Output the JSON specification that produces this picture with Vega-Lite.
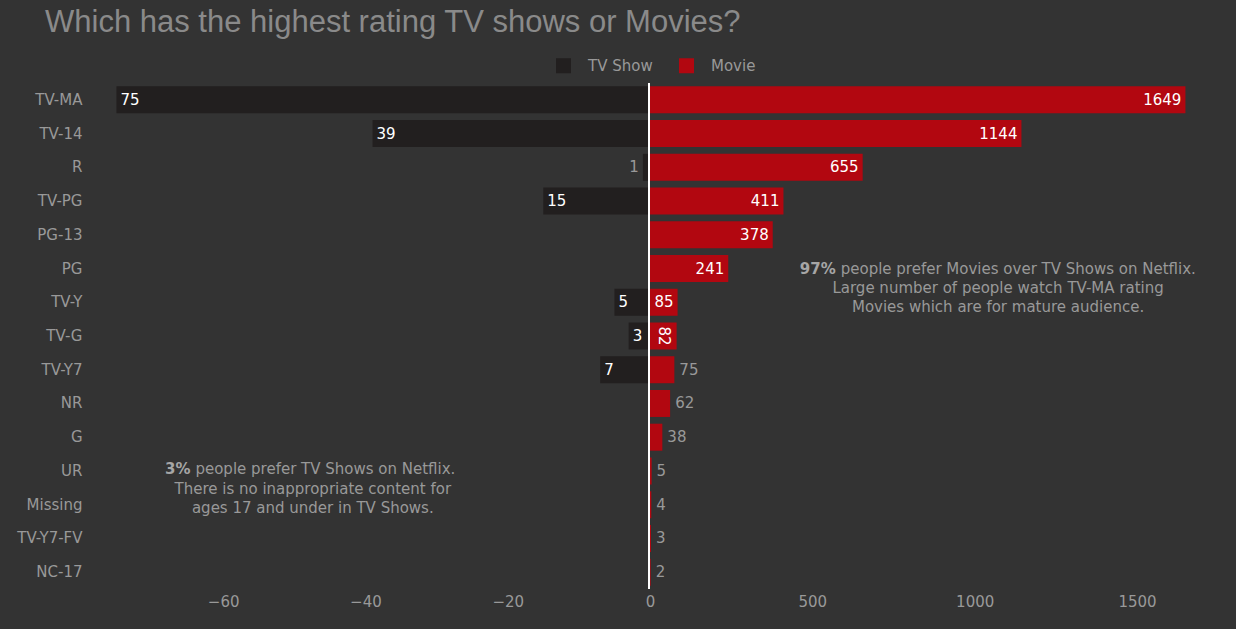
{
  "$schema": "https://vega.github.io/schema/vega-lite/v6.json",
  "width": 1126,
  "height": 506,
  "autosize": {"type": "none"},
  "padding": {"left": 88, "top": 83, "right": 22, "bottom": 40},
  "background": "#333333",
  "config": {
    "view": {"stroke": null},
    "font": "DejaVu Sans",
    "axis": {"grid": false, "domain": false, "ticks": false, "tickSize": 0, "labelFontSize": 15, "labelColor": "#999999", "labelFont": "DejaVu Sans", "title": null, "labelFlush": false}
  },
  "title": {
    "text": "Which has the highest rating TV shows or Movies?",
    "anchor": "start",
    "frame": "group",
    "font": "Liberation Sans",
    "fontSize": 31,
    "fontWeight": "normal",
    "color": "#8a8a8a",
    "dx": -43,
    "dy": -19,
    "offset": 0
  },
  "data": {
    "values": [
      {"rating": "TV-MA", "type": "TV Show", "count": 75},
      {"rating": "TV-14", "type": "TV Show", "count": 39},
      {"rating": "R", "type": "TV Show", "count": 1},
      {"rating": "TV-PG", "type": "TV Show", "count": 15},
      {"rating": "TV-Y", "type": "TV Show", "count": 5},
      {"rating": "TV-G", "type": "TV Show", "count": 3},
      {"rating": "TV-Y7", "type": "TV Show", "count": 7},
      {"rating": "TV-MA", "type": "Movie", "count": 1649},
      {"rating": "TV-14", "type": "Movie", "count": 1144},
      {"rating": "R", "type": "Movie", "count": 655},
      {"rating": "TV-PG", "type": "Movie", "count": 411},
      {"rating": "PG-13", "type": "Movie", "count": 378},
      {"rating": "PG", "type": "Movie", "count": 241},
      {"rating": "TV-Y", "type": "Movie", "count": 85},
      {"rating": "TV-G", "type": "Movie", "count": 82},
      {"rating": "TV-Y7", "type": "Movie", "count": 75},
      {"rating": "NR", "type": "Movie", "count": 62},
      {"rating": "G", "type": "Movie", "count": 38},
      {"rating": "UR", "type": "Movie", "count": 5},
      {"rating": "Missing", "type": "Movie", "count": 4},
      {"rating": "TV-Y7-FV", "type": "Movie", "count": 3},
      {"rating": "NC-17", "type": "Movie", "count": 2}
    ]
  },
  "resolve": {"scale": {"x": "independent"}, "axis": {"x": "independent"}},
  "layer": [
    {
      "layer": [
        {
          "transform": [{"filter": "datum.type === 'TV Show'"}],
          "mark": {"type": "bar"},
          "encoding": {
            "x": {
              "field": "count",
              "type": "quantitative",
              "scale": {"domain": [0, 79], "range": [562, 0], "nice": false},
              "axis": {"orient": "bottom", "values": [60, 40, 20, 0], "labelExpr": "datum.value == 0 ? '0' : '\u2212' + datum.label", "labelPadding": 5, "labelFlush": false}
            },
            "y": {
              "field": "rating",
              "type": "nominal",
              "scale": {"domain": ["TV-MA", "TV-14", "R", "TV-PG", "PG-13", "PG", "TV-Y", "TV-G", "TV-Y7", "NR", "G", "UR", "Missing", "TV-Y7-FV", "NC-17"], "paddingInner": 0.2, "paddingOuter": 0.1},
              "axis": {"labelPadding": 6, "labelFontSize": 15, "labelColor": "#999999"}
            },
            "color": {
              "field": "type",
              "type": "nominal",
              "scale": {"domain": ["TV Show", "Movie"], "range": ["#221f1f", "#b20710"]},
              "legend": {"orient": "none", "legendX": 468, "legendY": -25, "direction": "horizontal", "title": null, "symbolType": "square", "symbolSize": 225, "symbolStrokeWidth": 0, "symbolOpacity": 1, "labelFontSize": 15, "labelColor": "#999999", "labelFont": "DejaVu Sans", "labelOffset": 17, "columnPadding": 26, "padding": 0}
            }
          }
        },
        {
          "data": {"values": [{"note": "zero"}]},
          "mark": {"type": "rule", "color": "#ffffff", "strokeWidth": 2},
          "encoding": {
            "x": {"datum": 0.14, "type": "quantitative"}
          }
        },
        {
          "transform": [{"filter": "datum.type === 'TV Show' && datum.count >= 3"}],
          "mark": {"type": "text", "align": "left", "baseline": "middle", "dx": 4, "fontSize": 15, "color": "#ffffff"},
          "encoding": {
            "x": {"field": "count", "type": "quantitative"},
            "y": {"field": "rating", "type": "nominal"},
            "text": {"field": "count", "type": "quantitative"}
          }
        },
        {
          "transform": [{"filter": "datum.type === 'TV Show' && datum.count < 3"}],
          "mark": {"type": "text", "align": "right", "baseline": "middle", "dx": -4, "fontSize": 15, "color": "#999999"},
          "encoding": {
            "x": {"field": "count", "type": "quantitative"},
            "y": {"field": "rating", "type": "nominal"},
            "text": {"field": "count", "type": "quantitative"}
          }
        },
        {
          "data": {"values": [{"note": "tv"}]},
          "mark": {"type": "text", "align": "right", "baseline": "middle", "fontSize": 15, "fontWeight": "bold", "color": "#a6a6a6", "dy": -2},
          "encoding": {
            "x": {"datum": 64.6, "type": "quantitative"},
            "y": {"datum": "UR", "type": "nominal"},
            "text": {"value": "3%"}
          }
        },
        {
          "data": {"values": [{"note": "tv"}]},
          "mark": {"type": "text", "align": "left", "baseline": "middle", "fontSize": 15, "color": "#999999", "dy": -2, "dx": 5},
          "encoding": {
            "x": {"datum": 64.6, "type": "quantitative"},
            "y": {"datum": "UR", "type": "nominal"},
            "text": {"value": "people prefer TV Shows on Netflix."}
          }
        },
        {
          "data": {"values": [{"note": "tv"}]},
          "mark": {"type": "text", "align": "center", "baseline": "middle", "fontSize": 15, "color": "#999999", "dy": 18},
          "encoding": {
            "x": {"datum": 47.4, "type": "quantitative"},
            "y": {"datum": "UR", "type": "nominal"},
            "text": {"value": "There is no inappropriate content for"}
          }
        },
        {
          "data": {"values": [{"note": "tv"}]},
          "mark": {"type": "text", "align": "center", "baseline": "middle", "fontSize": 15, "color": "#999999", "dy": 37},
          "encoding": {
            "x": {"datum": 47.4, "type": "quantitative"},
            "y": {"datum": "UR", "type": "nominal"},
            "text": {"value": "ages 17 and under in TV Shows."}
          }
        }
      ]
    },
    {
      "layer": [
        {
          "transform": [{"filter": "datum.type === 'Movie'"}],
          "mark": {"type": "bar"},
          "encoding": {
            "x": {
              "field": "count",
              "type": "quantitative",
              "scale": {"domain": [0, 1737], "range": [562, 1126], "nice": false},
              "axis": {"orient": "bottom", "values": [500, 1000, 1500], "format": "d", "labelPadding": 5, "labelFlush": false}
            },
            "y": {"field": "rating", "type": "nominal"},
            "color": {"field": "type", "type": "nominal"}
          }
        },
        {
          "transform": [{"filter": "datum.type === 'Movie' && datum.count >= 84"}],
          "mark": {"type": "text", "align": "right", "baseline": "middle", "dx": -4, "fontSize": 15, "color": "#ffffff"},
          "encoding": {
            "x": {"field": "count", "type": "quantitative"},
            "y": {"field": "rating", "type": "nominal"},
            "text": {"field": "count", "type": "quantitative"}
          }
        },
        {
          "transform": [{"filter": "datum.type === 'Movie' && datum.count >= 80 && datum.count < 84"}],
          "mark": {"type": "text", "align": "center", "baseline": "middle", "angle": 90, "dy": 13, "fontSize": 15, "color": "#ffffff"},
          "encoding": {
            "x": {"field": "count", "type": "quantitative"},
            "y": {"field": "rating", "type": "nominal"},
            "text": {"field": "count", "type": "quantitative"}
          }
        },
        {
          "transform": [{"filter": "datum.type === 'Movie' && datum.count < 80"}],
          "mark": {"type": "text", "align": "left", "baseline": "middle", "dx": 5, "fontSize": 15, "color": "#999999"},
          "encoding": {
            "x": {"field": "count", "type": "quantitative"},
            "y": {"field": "rating", "type": "nominal"},
            "text": {"field": "count", "type": "quantitative"}
          }
        },
        {
          "data": {"values": [{"note": "movie"}]},
          "mark": {"type": "text", "align": "right", "baseline": "middle", "fontSize": 15, "fontWeight": "bold", "color": "#a6a6a6"},
          "encoding": {
            "x": {"datum": 572, "type": "quantitative"},
            "y": {"datum": "PG", "type": "nominal"},
            "text": {"value": "97%"}
          }
        },
        {
          "data": {"values": [{"note": "movie"}]},
          "mark": {"type": "text", "align": "left", "baseline": "middle", "fontSize": 15, "color": "#999999", "dx": 5},
          "encoding": {
            "x": {"datum": 572, "type": "quantitative"},
            "y": {"datum": "PG", "type": "nominal"},
            "text": {"value": "people prefer Movies over TV Shows on Netflix."}
          }
        },
        {
          "data": {"values": [{"note": "movie"}]},
          "mark": {"type": "text", "align": "center", "baseline": "middle", "fontSize": 15, "color": "#999999", "dy": 19},
          "encoding": {
            "x": {"datum": 1072, "type": "quantitative"},
            "y": {"datum": "PG", "type": "nominal"},
            "text": {"value": "Large number of people watch TV-MA rating"}
          }
        },
        {
          "data": {"values": [{"note": "movie"}]},
          "mark": {"type": "text", "align": "center", "baseline": "middle", "fontSize": 15, "color": "#999999", "dy": 38},
          "encoding": {
            "x": {"datum": 1072, "type": "quantitative"},
            "y": {"datum": "PG", "type": "nominal"},
            "text": {"value": "Movies which are for mature audience."}
          }
        }
      ]
    }
  ]
}
